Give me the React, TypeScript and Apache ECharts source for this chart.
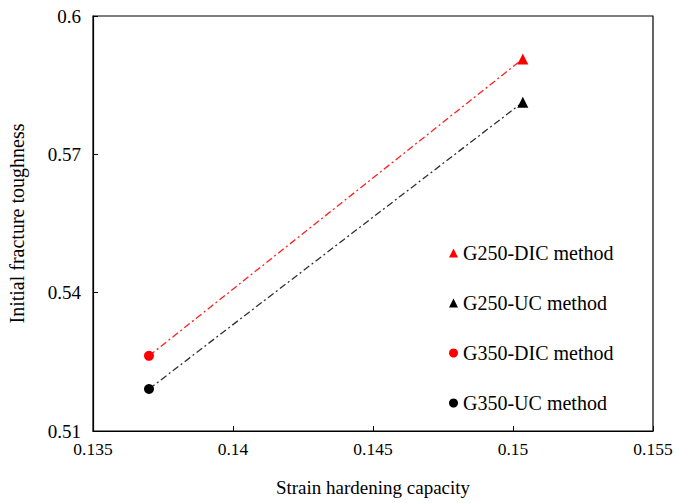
import React, { useEffect, useRef } from "react";
import * as echarts from "echarts";

const seriesNames = ["G250-DIC method", "G250-UC method", "G350-DIC method", "G350-UC method"];
const seriesColors = ["#ff0000", "#000000", "#ff0000", "#000000"];
const seriesSymbols = ["triangle", "triangle", "circle", "circle"];
const strainHardening = [0.15035, 0.15035, 0.137, 0.137];
const fractureToughness = [0.5907, 0.5813, 0.5263, 0.5191];
const xTicks = [0.135, 0.14, 0.145, 0.15, 0.155];
const yTicks = [0.51, 0.54, 0.57, 0.6];

export default function App() {
  const ref = useRef<HTMLDivElement>(null);
  useEffect(() => {
    document.body.style.margin = "0";
    document.body.style.overflow = "hidden";
    if (!ref.current) return;
    const chart = echarts.init(ref.current, null, { renderer: "svg" });
    const font = "'Liberation Serif', 'Times New Roman', serif";
    const scatter = seriesNames.map((name, i) => ({
      name,
      type: "scatter",
      symbol: seriesSymbols[i],
      symbolSize: seriesSymbols[i] === "triangle" ? 11 : 10,
      itemStyle: { color: seriesColors[i], opacity: 1 },
      data: [[strainHardening[i], fractureToughness[i]]],
      z: 3,
    }));
    const trend = [
      { color: "#ff2020", a: 2, b: 0 },
      { color: "#303030", a: 3, b: 1 },
    ].map((t) => ({
      type: "line",
      symbol: "none",
      silent: true,
      lineStyle: { color: t.color, width: 1.3, type: [7, 3, 2, 3] },
      data: [
        [strainHardening[t.a], fractureToughness[t.a]],
        [strainHardening[t.b], fractureToughness[t.b]],
      ],
      z: 2,
    }));
    chart.setOption({
      animation: false,
      textStyle: { fontFamily: font },
      grid: {
        left: 93,
        right: 22,
        top: 16,
        bottom: 72,
        show: true,
        borderColor: "#000",
        borderWidth: 1.2,
        containLabel: false,
        outerBoundsMode: "none",
      },
      xAxis: {
        type: "value",
        min: xTicks[0],
        max: xTicks[xTicks.length - 1],
        interval: 0.005,
        name: "Strain hardening capacity",
        nameLocation: "middle",
        nameGap: 47,
        nameTextStyle: { fontFamily: font, fontSize: 19, color: "#000" },
        axisLine: { lineStyle: { color: "#000", width: 1.2 } },
        axisTick: { inside: true, length: 5, lineStyle: { color: "#000" } },
        axisLabel: {
          fontFamily: font,
          fontSize: 17.5,
          color: "#000",
          margin: 9,
          hideOverlap: false,
          formatter: (v: number) => {
            let best = xTicks[0];
            xTicks.forEach((t) => {
              if (Math.abs(t - v) < Math.abs(best - v)) best = t;
            });
            return String(best);
          },
        },
        splitLine: { show: false },
      },
      yAxis: {
        type: "value",
        min: yTicks[0],
        max: yTicks[yTicks.length - 1],
        interval: 0.03,
        name: "Initial fracture toughness",
        nameLocation: "middle",
        nameGap: 66,
        nameTextStyle: { fontFamily: font, fontSize: 20, color: "#000" },
        axisLine: { lineStyle: { color: "#000", width: 1.2 } },
        axisTick: { inside: true, length: 5, lineStyle: { color: "#000" } },
        axisLabel: {
          fontFamily: font,
          fontSize: 19,
          color: "#000",
          margin: 12,
          formatter: (v: number) => String(parseFloat(v.toFixed(2))),
        },
        splitLine: { show: false },
      },
      legend: {
        data: seriesNames.map((name, i) => ({ name, icon: seriesSymbols[i] })),
        orient: "vertical",
        left: 444,
        top: 238,
        itemWidth: 9,
        itemHeight: 9,
        itemGap: 30,
        textStyle: { fontFamily: font, fontSize: 20, color: "#000" },
      },
      series: [...trend, ...scatter],
    });
    return () => chart.dispose();
  }, []);
  return <div ref={ref} style={{ width: 675, height: 503 }} />;
}
